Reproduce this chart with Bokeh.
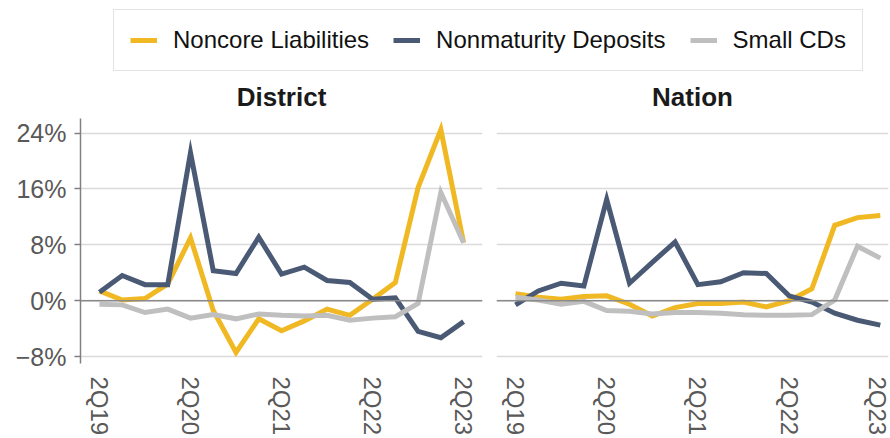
from bokeh.plotting import figure
from bokeh.models import (Range1d, FixedTicker, Legend, LegendItem, Span, Title,
                          ColumnDataSource)
from bokeh.layouts import column, row
from bokeh.embed import file_html
from bokeh.resources import INLINE

quarters = ["2Q19", "3Q19", "4Q19", "1Q20", "2Q20", "3Q20", "4Q20", "1Q21", "2Q21",
            "3Q21", "4Q21", "1Q22", "2Q22", "3Q22", "4Q22", "1Q23", "2Q23"]
tick_quarters = ["2Q19", "2Q20", "2Q21", "2Q22", "2Q23"]

series_names = ["Noncore Liabilities", "Nonmaturity Deposits", "Small CDs"]
colors = ["#F0B823", "#4A5A75", "#BFBFBF"]

district_noncore = [1.4, 0.1, 0.3, 2.4, 9.0, -1.4, -7.4, -2.6, -4.3, -2.9, -1.2, -2.1, 0.2, 2.6, 16.2, 24.5, 8.3]
district_nonmat = [1.2, 3.6, 2.3, 2.3, 21.2, 4.3, 3.9, 9.1, 3.8, 4.8, 2.9, 2.6, 0.2, 0.4, -4.4, -5.3, -3.0]
district_smallcd = [-0.5, -0.6, -1.7, -1.2, -2.5, -2.0, -2.6, -1.9, -2.1, -2.2, -2.1, -2.8, -2.5, -2.3, -0.4, 15.5, 8.3]

nation_noncore = [1.0, 0.5, 0.2, 0.6, 0.7, -0.5, -2.2, -1.0, -0.4, -0.4, -0.2, -0.9, 0.0, 1.7, 10.8, 11.9, 12.2]
nation_nonmat = [-0.6, 1.4, 2.5, 2.1, 14.5, 2.5, 5.5, 8.4, 2.3, 2.7, 4.0, 3.9, 0.7, -0.2, -1.8, -2.8, -3.5]
nation_smallcd = [0.5, 0.1, -0.5, -0.1, -1.4, -1.5, -1.9, -1.7, -1.7, -1.8, -2.0, -2.1, -2.1, -2.0, 0.1, 7.8, 6.1]

y_ticks = [-8, 0, 8, 16, 24]
y_tick_labels = ["\u22128%", "0%", "8%", "16%", "24%"]

FONT = "Liberation Sans"
x_idx = list(range(len(quarters)))
tick_pos = [quarters.index(q) for q in tick_quarters]


def make_panel(title, series, width, border_left, border_right, x_end, show_y):
    p = figure(width=width, height=366, output_backend="svg", toolbar_location=None,
               x_range=Range1d(-0.833, x_end), y_range=Range1d(-9.0, 26.1),
               min_border_left=border_left, min_border_right=border_right,
               min_border_top=45, min_border_bottom=75)
    p.outline_line_color = None
    p.background_fill_color = "white"
    p.border_fill_color = "white"
    p.title = Title(text=title, align="center", text_font=FONT, text_font_size="26px",
                    text_font_style="bold", text_color="#1a1a1a", standoff=14)
    p.xgrid.grid_line_color = None
    p.ygrid.ticker = FixedTicker(ticks=y_ticks)
    p.ygrid.grid_line_color = "#dadada"
    p.ygrid.grid_line_width = 1.5
    p.add_layout(Span(location=0, dimension="width", line_color="#8a8a8a", line_width=1.5))

    xa = p.xaxis[0]
    xa.ticker = FixedTicker(ticks=tick_pos)
    xa.major_label_overrides = {i: quarters[i] for i in tick_pos}
    xa.major_label_orientation = "vertical"
    xa.major_label_text_font = FONT
    xa.major_label_text_font_size = "24px"
    xa.major_label_text_color = "#595959"
    xa.major_label_standoff = 13
    xa.axis_line_color = None
    xa.major_tick_line_color = None
    xa.major_tick_out = 0
    xa.major_tick_in = 0
    xa.minor_tick_line_color = None
    xa.minor_tick_out = 0

    ya = p.yaxis[0]
    if show_y:
        ya.ticker = FixedTicker(ticks=y_ticks)
        ya.major_label_overrides = dict(zip(y_ticks, y_tick_labels))
        ya.major_label_text_font = FONT
        ya.major_label_text_font_size = "25px"
        ya.major_label_text_color = "#595959"
        ya.major_label_standoff = 8
        ya.axis_line_color = "#808080"
        ya.axis_line_width = 1.5
        ya.major_tick_line_color = "#808080"
        ya.major_tick_line_width = 1.5
        ya.major_tick_out = 6
        ya.major_tick_in = 0
        ya.minor_tick_line_color = None
    else:
        ya.visible = False

    for vals, c in zip(series, colors):
        src = ColumnDataSource(dict(x=x_idx, y=vals))
        p.line("x", "y", source=src, line_color=c, line_width=5,
               line_join="miter")
    return p


left = make_panel("District", [district_noncore, district_nonmat, district_smallcd],
                  489, 80, 7, 16.83, True)
right = make_panel("Nation", [nation_noncore, nation_nonmat, nation_smallcd],
                   401, 7, 2, 16.36, False)

# Legend figure (renderers hidden; only their legend glyphs are shown)
lf = figure(width=890, height=72, output_backend="svg", toolbar_location=None,
            x_range=Range1d(0, 1), y_range=Range1d(0, 1), min_border=0)
lf.axis.visible = False
lf.grid.visible = False
lf.outline_line_color = None
items = []
for name, c, vals in zip(series_names, colors,
                         [district_noncore, district_nonmat, district_smallcd]):
    r = lf.line(x=x_idx, y=vals, line_color=c, line_width=5, visible=False)
    items.append(LegendItem(label=name, renderers=[r]))
legend = Legend(items=items, orientation="horizontal", location=(113, 1),
                border_line_color="#c8c8c8", border_line_width=1.5,
                padding=16, spacing=24, label_standoff=16, glyph_width=27,
                glyph_height=20, margin=0, label_text_font=FONT,
                label_text_font_size="24px", label_text_color="#111111",
                background_fill_color="white", background_fill_alpha=1.0,
                inactive_fill_alpha=0.0)
lf.add_layout(legend, "center")

layout = column(lf, row(left, right))

open("out.html", "w").write(file_html(layout, INLINE))
